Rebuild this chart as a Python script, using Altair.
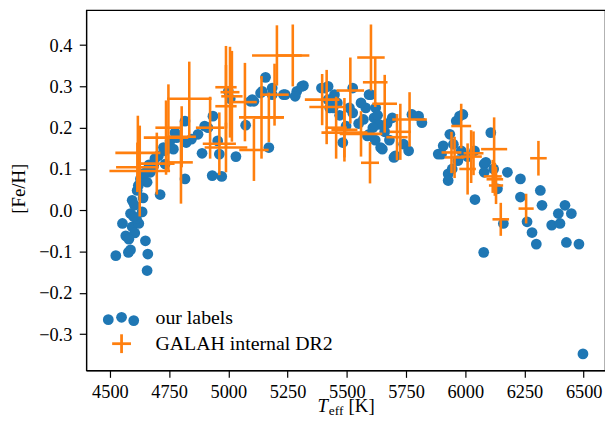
import altair as alt
import pandas as pd

# ---------------- data: "our labels" (blue points) ----------------
our_teff_cool = [4525, 4578, 4587, 4657, 4660, 4650, 4567, 4553, 4594, 4622, 4587, 4636, 4594,
                 4615, 4629, 4657, 4671, 4685, 4712, 4705, 4726, 4754, 4775, 4817, 4817, 4768,
                 4733, 4733, 4782, 4844, 4872, 4889, 4932, 4972, 4955, 4962, 5032, 5073, 4935,
                 4900, 4914, 4822, 4604, 4612, 4605, 4640, 4620, 4580, 4645, 4665, 4690, 4600]
our_feh_cool = [-0.110, -0.102, -0.096, -0.146, -0.106, -0.074, -0.062, -0.032, -0.040, -0.032,
                -0.008, -0.004, 0.024, 0.048, 0.076, 0.068, 0.092, 0.108, 0.038, 0.132, 0.152,
                0.168, 0.188, 0.076, 0.216, 0.148, 0.144, 0.112, 0.176, 0.172, 0.184, 0.138,
                0.084, 0.082, 0.168, 0.136, 0.130, 0.206, 0.228, 0.204, 0.200, 0.164, 0.012,
                -0.020, -0.055, 0.030, 0.060, -0.070, 0.090, 0.110, 0.125, -0.015]

our_teff_mid = [5093, 5108, 5157, 5000, 5171, 5136, 5185, 5101, 5143, 5185, 5240, 5289, 5317,
                5282, 5310, 5233, 5393, 5421, 5448, 5428, 5442, 5525, 5511, 5525, 5483, 5497,
                5587, 5580, 5601, 5615, 5636, 5650, 5692, 5699, 5740, 5761, 5803, 5775, 5817,
                5643, 5705, 5594, 5622, 5594, 5407, 5421, 5560, 5570, 5610, 5630, 5660, 5670,
                5680, 5620, 5550, 5460, 5470, 5008]
our_feh_mid = [0.264, 0.264, 0.322, 0.288, 0.152, 0.284, 0.296, 0.268, 0.288, 0.280, 0.280,
               0.288, 0.302, 0.276, 0.300, 0.280, 0.296, 0.300, 0.280, 0.248, 0.248, 0.296,
               0.248, 0.236, 0.164, 0.204, 0.180, 0.248, 0.280, 0.224, 0.208, 0.148, 0.224,
               0.128, 0.160, 0.144, 0.228, 0.232, 0.212, 0.152, 0.132, 0.280, 0.248, 0.184,
               0.296, 0.268, 0.260, 0.220, 0.200, 0.230, 0.190, 0.210, 0.170, 0.170, 0.210,
               0.260, 0.230, 0.270]

our_teff_hot = [5900, 5976, 5962, 5935, 5928, 5928, 5983, 6039, 6108, 6080, 6178, 6233, 5990,
                5907, 5886, 5969, 6087, 6080, 6041, 6136, 6161, 6078, 6233, 6261, 6282, 6300,
                6317, 6324, 6365, 6393, 6421, 6448, 6400, 6427, 6480, 6497, 5945, 5950, 6010,
                6120]
our_feh_hot = [0.136, 0.228, 0.216, 0.184, 0.088, 0.072, 0.144, 0.144, 0.188, 0.112, 0.092,
               0.076, 0.232, 0.156, 0.136, 0.120, 0.116, 0.092, 0.026, 0.052, -0.032, -0.102,
               0.032, -0.028, -0.054, -0.082, 0.048, 0.012, -0.036, -0.008, 0.012, -0.008,
               -0.032, -0.078, -0.082, -0.348, 0.100, 0.160, 0.130, 0.100]

# ---------------- data: "GALAH internal DR2" (orange error bars) ----------------
galah_teff = [4618, 4626, 4616, 4698, 4737, 4803, 4835, 4747, 4923, 4962, 4990, 5007, 5015,
              4990, 5070, 5108, 5205, 5272, 5195, 5140, 4990, 4800, 5171, 5396, 5415, 5490,
              5490, 5515, 5560, 5602, 5620, 5598, 5660, 5712, 5726, 5765, 5455, 5983, 5942,
              5955, 6025, 6010, 6035, 6122, 6116, 6125, 6130, 6150, 6257, 6309]
galah_feh = [0.139, 0.095, 0.104, 0.113, 0.176, 0.178, 0.270, 0.200, 0.200, 0.161, 0.298,
             0.286, 0.276, 0.252, 0.262, 0.146, 0.375, 0.375, 0.280, 0.225, 0.152, 0.116,
             0.225, 0.268, 0.250, 0.195, 0.188, 0.290, 0.185, 0.370, 0.310, 0.115, 0.258,
             0.177, 0.190, 0.220, 0.200, 0.204, 0.140, 0.128, 0.130, 0.100, 0.138, 0.148,
             0.082, 0.075, 0.060, -0.022, 0.004, 0.126]
galah_teff_err = [95, 128, 90, 75, 94, 60, 94, 55, 60, 70, 45, 40, 45, 45, 50, 62, 105, 70, 60,
                  95, 90, 50, 62, 73, 73, 55, 97, 58, 90, 58, 52, 38, 52, 45, 45, 73, 45, 42,
                  42, 42, 45, 35, 42, 55, 38, 35, 30, 35, 32, 35]
galah_feh_err = [0.090, 0.110, 0.060, 0.075, 0.090, 0.074, 0.090, 0.105, 0.075, 0.076, 0.100,
                 0.110, 0.110, 0.100, 0.095, 0.075, 0.073, 0.075, 0.075, 0.100, 0.060, 0.100,
                 0.060, 0.062, 0.090, 0.077, 0.060, 0.080, 0.055, 0.080, 0.060, 0.050, 0.070,
                 0.056, 0.068, 0.066, 0.075, 0.054, 0.050, 0.050, 0.064, 0.062, 0.053, 0.077,
                 0.040, 0.040, 0.045, 0.040, 0.036, 0.042]

x_ticks = [4500, 4750, 5000, 5250, 5500, 5750, 6000, 6250, 6500]
y_ticks = [-0.3, -0.2, -0.1, 0.0, 0.1, 0.2, 0.3, 0.4]
legend_labels = ["our labels", "GALAH internal DR2"]

BLUE = "#1f77b4"
ORANGE = "#ff7f0e"
FONT = "Liberation Serif"

ours = pd.DataFrame({
    "teff": our_teff_cool + our_teff_mid + our_teff_hot,
    "feh": our_feh_cool + our_feh_mid + our_feh_hot,
})
gal = pd.DataFrame({"teff": galah_teff, "feh": galah_feh,
                    "terr": galah_teff_err, "ferr": galah_feh_err})
gal["tlo"] = gal["teff"] - gal["terr"]
gal["thi"] = gal["teff"] + gal["terr"]
gal["flo"] = gal["feh"] - gal["ferr"]
gal["fhi"] = gal["feh"] + gal["ferr"]

xscale = alt.Scale(domain=[4400, 6590], nice=False, zero=False)
yscale = alt.Scale(domain=[-0.388, 0.485], nice=False, zero=False)
xaxis = alt.Axis(values=x_ticks, format="d", title=None, labelPadding=5.5)
yaxis = alt.Axis(values=y_ticks, format=".1f", title="[Fe/H]", labelPadding=7.5,
                 titleX=-62, titleY=180, titleAngle=270, titleBaseline="alphabetic",
                 titleAlign="center", titleFontSize=19, titleFont=FONT,
                 titleFontWeight="normal", titleColor="black")

points = alt.Chart(ours).mark_circle(size=118, opacity=1, color=BLUE).encode(
    x=alt.X("teff:Q", scale=xscale, axis=xaxis),
    y=alt.Y("feh:Q", scale=yscale, axis=yaxis),
)

hbars = alt.Chart(gal).mark_rule(color=ORANGE, strokeWidth=2.6, strokeCap="butt").encode(
    x=alt.X("tlo:Q", scale=xscale, axis=xaxis),
    x2="thi:Q",
    y=alt.Y("feh:Q", scale=yscale, axis=yaxis),
)
vbars = alt.Chart(gal).mark_rule(color=ORANGE, strokeWidth=2.6, strokeCap="butt").encode(
    x=alt.X("teff:Q", scale=xscale, axis=xaxis),
    y=alt.Y("flo:Q", scale=yscale, axis=yaxis),
    y2="fhi:Q",
)

one = pd.DataFrame({"k": [0]})

# legend (drawn in pixel space inside the plot)
leg = []
for lx, ly in [(22.3, 312.7), (35.7, 310.3), (48.0, 313.7)]:
    leg.append(alt.Chart(one).mark_circle(size=118, opacity=1, color=BLUE).encode(
        x=alt.value(lx), y=alt.value(ly)))
leg.append(alt.Chart(one).mark_rule(color=ORANGE, strokeWidth=2.8).encode(
    x=alt.value(26.2), x2=alt.value(45.2), y=alt.value(337)))
leg.append(alt.Chart(one).mark_rule(color=ORANGE, strokeWidth=2.8).encode(
    x=alt.value(35.7), y=alt.value(327.5), y2=alt.value(346.5)))
for i, ly in enumerate([317, 343.7]):
    leg.append(alt.Chart(one).mark_text(text=legend_labels[i], font=FONT, fontSize=20,
                                        align="left", baseline="alphabetic", color="black")
               .encode(x=alt.value(70), y=alt.value(ly)))

# x-axis title  T_eff [K]
xt = [
    alt.Chart(one).mark_text(text="T", font=FONT, fontSize=19, fontStyle="italic",
                             align="left", baseline="alphabetic", color="black")
    .encode(x=alt.value(233.5), y=alt.value(406.5)),
    alt.Chart(one).mark_text(text="eff", font=FONT, fontSize=13.5,
                             align="left", baseline="alphabetic", color="black")
    .encode(x=alt.value(245), y=alt.value(409)),
    alt.Chart(one).mark_text(text="[K]", font=FONT, fontSize=19,
                             align="left", baseline="alphabetic", color="black")
    .encode(x=alt.value(265), y=alt.value(406.5)),
]

chart = alt.layer(points, hbars, vbars, *leg, *xt).properties(
    width=524, height=364,
    autosize=alt.AutoSizeParams(type="none"),
    padding={"left": 79, "top": 0, "right": 0, "bottom": 46},
).configure_view(
    stroke="black", strokeWidth=1.2
).configure_axis(
    grid=False, domainColor="black", domainWidth=1.2, tickColor="black", tickWidth=1.2,
    tickSize=7, labelFont=FONT, labelFontSize=18.5, labelColor="black",
)

chart.save("out.html", embed_options={"renderer": "svg", "actions": False})
